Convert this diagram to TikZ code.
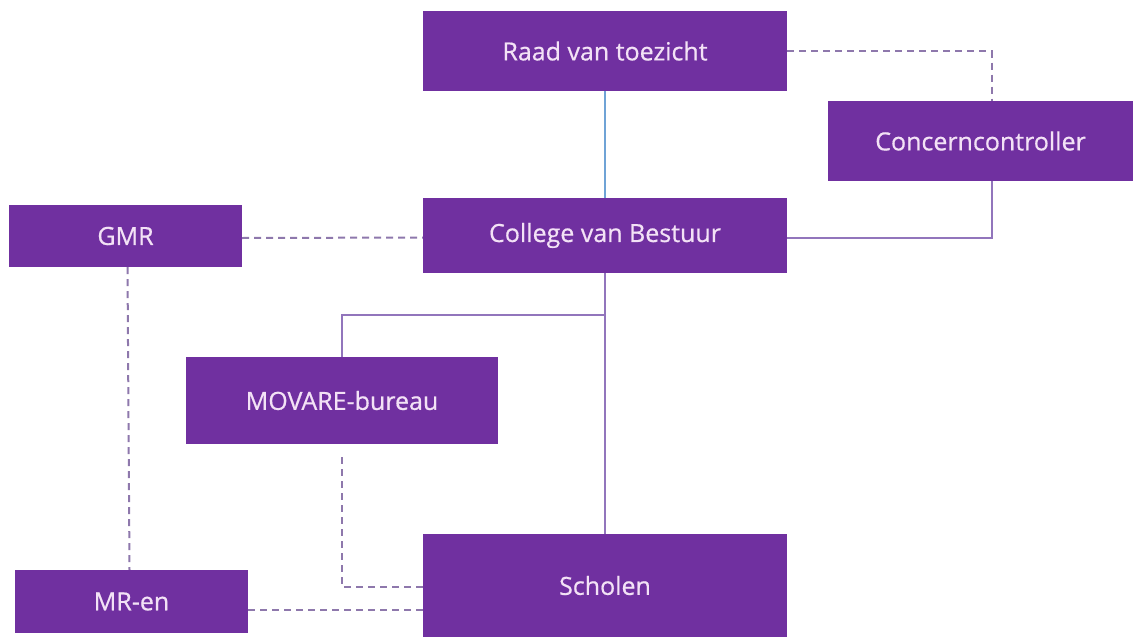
\documentclass[tikz,border=0pt]{standalone}
\usepackage{fontspec}
\newfontfamily\boxfont{Open Sans}[FakeBold=0.6]
\usetikzlibrary{calc}
\definecolor{boxpurple}{HTML}{7030A0}
\definecolor{boxtext}{HTML}{F3E2F6}
\definecolor{dashline}{HTML}{8E78AC}
\definecolor{solidline}{HTML}{9275BC}
\definecolor{blueline}{HTML}{6FA3D6}
\tikzset{
  orgbox/.style={fill=boxpurple, draw=none, text=boxtext, font=\boxfont\fontsize{25}{30}\selectfont, inner sep=0pt},
  dashlink/.style={draw=dashline, line width=2pt, dash pattern=on 7pt off 5pt},
  solidlink/.style={draw=solidline, line width=2pt},
  bluelink/.style={draw=blueline, line width=1.5pt}
}
\begin{document}
\begin{tikzpicture}[x=1pt,y=-1pt]
\useasboundingbox (0,0) rectangle (1143,637);
\node[orgbox, minimum width=364pt, minimum height=80pt] (raad) at (605,51) {Raad van toezicht};
\node[orgbox, minimum width=305pt, minimum height=80pt] (cc) at (980.5,141) {Concerncontroller};
\node[orgbox, minimum width=233pt, minimum height=62pt] (gmr) at (125.5,236) {GMR};
\node[orgbox, minimum width=364pt, minimum height=75pt] (cvb) at (605,235.5) {College van Bestuur};
\node[orgbox, minimum width=312pt, minimum height=87pt] (mov) at (342,400.5) {MOVARE-bureau};
\node[orgbox, minimum width=364pt, minimum height=103pt] (sch) at (605,585.5) {Scholen};
\node[orgbox, minimum width=233pt, minimum height=63pt] (mr) at (131.5,601.5) {MR-en};
\coordinate (br) at ($(cvb.south)+(0,42)$);
\draw[bluelink] (raad.south) -- (cvb.north);
\draw[dashlink] (raad.east) -| ($(cc.north)+(11,0)$);
\draw[solidlink] ($(cc.south)+(11,0)$) |- ($(cvb.east)+(0,2)$);
\draw[dashlink] ($(gmr.east)+(0,2)$) -- ($(cvb.west)+(0,2)$);
\draw[dashlink] ($(gmr.south)+(2,0)$) -- ($(mr.north)+(-2,0)$);
\draw[solidlink] (cvb.south) -- (sch.north);
\draw[solidlink] (br) -| (mov.north);
\draw[dashlink] ($(mov.south)+(0,13)$) |- ($(sch.west)+(0,1.5)$);
\draw[dashlink] ($(mr.east)+(0,8.5)$) -- ($(mr.east -| sch.west)+(0,8.5)$);
\end{tikzpicture}
\end{document}
